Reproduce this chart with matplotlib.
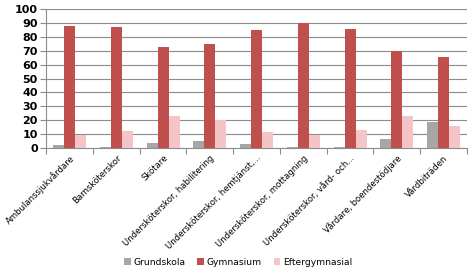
import matplotlib
matplotlib.use("Agg")
import matplotlib.pyplot as plt
import numpy as np

categories = ["Ambulanssjukvårdare", "Barnsköterskor", "Skötare",
              "Undersköterskor, habilitering", "Undersköterskor, hemtjänst,...",
              "Undersköterskor, mottagning", "Undersköterskor, vård- och...",
              "Vårdare, boendestödjare", "Vårdbiträden"]
grundskola = [2, 1, 3.3, 4.8, 3, 0.5, 1, 6.5, 18.5]
gymnasium = [88, 87, 73, 75, 85, 90, 85.5, 70, 65.5]
eftergymnasial = [9.6, 12.4, 23.2, 20, 11.2, 9.6, 13.2, 23.2, 15.5]
series_names = ["Grundskola", "Gymnasium", "Eftergymnasial"]
colors = ["#a6a6a6", "#c0504d", "#f5c4c6"]

fig = plt.figure(figsize=(4.76, 2.79), dpi=100)
ax = fig.add_axes([0.097, 0.4695, 0.884, 0.498])

x = np.arange(len(categories))
w = 0.235
for i, (vals, name, c) in enumerate(zip([grundskola, gymnasium, eftergymnasial], series_names, colors)):
    ax.bar(x + (i - 1) * w, vals, width=w, color=c, label=name, zorder=3)

ax.set_xlim(-0.5, len(categories) - 0.5)
ax.set_ylim(0, 100)
ax.set_yticks(range(0, 101, 10))
ax.yaxis.grid(True, color="#8c8c8c", linewidth=0.8, zorder=0)
for s in ["top", "right"]:
    ax.spines[s].set_visible(False)
ax.spines["left"].set_color("#8c8c8c")
ax.spines["bottom"].set_color("#8c8c8c")
ax.tick_params(axis="y", length=4, color="#8c8c8c", labelsize=8, pad=2)
ax.set_xticks(np.arange(len(categories) + 1) - 0.5, minor=False)
ax.set_xticklabels([])
ax.tick_params(axis="x", which="major", length=4, color="#8c8c8c")
ax.set_xticks(x, minor=True)
ax.set_xticklabels(categories, minor=True, rotation=45, ha="right",
                   rotation_mode="anchor", fontsize=6.1)
ax.tick_params(axis="x", which="minor", length=0, pad=4)
for lbl in ax.get_yticklabels():
    lbl.set_fontweight("bold")

fig.legend(loc="lower center", bbox_to_anchor=(0.5, 0.015), ncol=3, frameon=False,
           fontsize=6.6, handlelength=0.7, handleheight=0.7, handletextpad=0.3,
           columnspacing=1.3)

fig.savefig("out.png", dpi=100)
